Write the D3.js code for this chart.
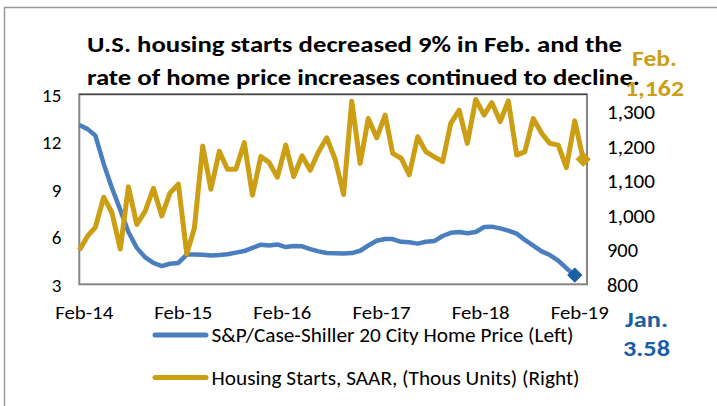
<!DOCTYPE html>
<html>
<head>
<meta charset="utf-8">
<title>Housing starts and home prices</title>
<script src="https://cdn.jsdelivr.net/npm/d3@7"></script>
<style>
  body { margin: 0; background: #fff; }
  svg text { font-family: Carlito, Lato, "Open Sans", sans-serif; }
</style>
</head>
<body>
<script>
// monthly series, Jan-14 onwards
var firstMonth = new Date(2014, 0, 1);

// Housing Starts, SAAR, thousands (Jan-14 .. Feb-19)
var housingStarts = [
  899, 940, 965, 1052, 1008, 902, 1082, 973, 1012, 1078, 998, 1064,
  1090, 888, 962, 1200, 1075, 1185, 1133, 1133, 1210, 1058, 1170, 1153,
  1110, 1203, 1112, 1172, 1130, 1184, 1224, 1162, 1060, 1330, 1150, 1280,
  1224, 1290, 1179, 1165, 1117, 1227, 1184, 1169, 1155, 1266, 1304, 1208,
  1335, 1290, 1326, 1271, 1331, 1174, 1184, 1280, 1237, 1208, 1203, 1138,
  1273, 1162
];

// S&P/Case-Shiller 20 City, % y/y (Jan-14 .. Jan-19)
var homePrice = [
  13.06, 12.8, 12.4, 10.6, 9.1, 7.7, 6.3, 5.3, 4.7, 4.35, 4.15, 4.3,
  4.35, 4.88, 4.88, 4.86, 4.82, 4.85, 4.9, 5.0, 5.1, 5.3, 5.5, 5.45,
  5.52, 5.35, 5.42, 5.4, 5.22, 5.08, 4.98, 4.96, 4.95, 4.97, 5.12, 5.45,
  5.75, 5.86, 5.86, 5.68, 5.66, 5.57, 5.69, 5.73, 6.05, 6.25, 6.3, 6.22,
  6.3, 6.62, 6.64, 6.53, 6.39, 6.2, 5.8, 5.44, 5.08, 4.85, 4.5, 4.02,
  3.58
];

var leftTicks = [3, 6, 9, 12, 15];
var rightTicks = [800, 900, 1000, 1100, 1200, 1300];
var xTickLabels = ["Feb-14", "Feb-15", "Feb-16", "Feb-17", "Feb-18", "Feb-19"];

var titleLines = [
  "U.S. housing starts decreased 9% in Feb. and the",
  "rate of home price increases continued to decline."
];
var legendLabels = [
  "S&P/Case-Shiller 20 City Home Price (Left)",
  "Housing Starts, SAAR, (Thous Units) (Right)"
];

var blue = "#4a7ebf", gold = "#cc9e14", blueDark = "#1a5ea6";

var w = 717, h = 406;
var plot = {left: 79.3, right: 587, top: 94.3, bottom: 284.3};

var svg = d3.select("body").append("svg")
  .attr("width", w)
  .attr("height", h);

// outer frame
svg.append("rect")
  .attr("x", 4.5).attr("y", 7.5)
  .attr("width", w + 10).attr("height", h + 10)
  .attr("fill", "none")
  .attr("stroke", "#9a9a9a")
  .attr("stroke-width", 1.5);

function monthDate(i) { return d3.timeMonth.offset(firstMonth, i); }

var x = d3.scaleTime()
  .domain([firstMonth, new Date(2019, 1, 15)])
  .range([plot.left, plot.right]);
var yL = d3.scaleLinear().domain([3, 15]).range([plot.bottom, plot.top]);
var yR = d3.scaleLinear().domain([800, 1350]).range([plot.bottom, plot.top]);

// plot frame
svg.append("rect")
  .attr("x", plot.left).attr("y", plot.top)
  .attr("width", plot.right - plot.left)
  .attr("height", plot.bottom - plot.top)
  .attr("fill", "#fff")
  .attr("stroke", "#858585")
  .attr("stroke-width", 2);
svg.append("line")
  .attr("x1", plot.left).attr("x2", plot.right)
  .attr("y1", plot.top).attr("y2", plot.top)
  .attr("stroke", "#333").attr("stroke-width", 1);

// axes (labels only, no tick marks or domain lines)
var leftAxis = svg.append("g")
  .attr("transform", "translate(" + (plot.left - 18) + ",0)")
  .call(d3.axisLeft(yL).tickValues(leftTicks).tickSize(0).tickPadding(0));
leftAxis.select(".domain").remove();
leftAxis.selectAll("text")
  .attr("font-family", "'Liberation Sans', Arial, sans-serif")
  .attr("font-size", 19)
  .attr("fill", "#000")
  .attr("dy", "0.36em");

var rightAxis = svg.append("g")
  .attr("transform", "translate(" + (plot.right + 20) + ",0)")
  .call(d3.axisRight(yR).tickValues(rightTicks).tickSize(0).tickPadding(0)
    .tickFormat(d3.format(",")));
rightAxis.select(".domain").remove();
rightAxis.selectAll("text")
  .attr("font-family", null)
  .attr("font-size", 20)
  .attr("fill", "#000")
  .attr("dy", "0.36em")
  .attr("textLength", function(d) { return d >= 1000 ? 48 : 31; })
  .attr("lengthAdjust", "spacingAndGlyphs");

var xTickDates = xTickLabels.map(function(d, i) { return new Date(2014 + i, 1, 1); });
var bottomAxis = svg.append("g")
  .attr("transform", "translate(-4," + (plot.bottom + 21) + ")")
  .call(d3.axisBottom(x).tickValues(xTickDates).tickSize(0).tickPadding(0)
    .tickFormat(function(d, i) { return xTickLabels[i]; }));
bottomAxis.select(".domain").remove();
bottomAxis.selectAll("text")
  .attr("font-family", null)
  .attr("font-size", 19)
  .attr("fill", "#000")
  .attr("textLength", 58)
  .attr("lengthAdjust", "spacingAndGlyphs");

// lines
var goldLine = d3.line()
  .x(function(d, i) { return x(monthDate(i)); })
  .y(function(d) { return yR(d); });
var blueLine = d3.line()
  .x(function(d, i) { return x(monthDate(i)); })
  .y(function(d) { return yL(d); });

svg.append("path")
  .datum(homePrice)
  .attr("d", blueLine)
  .attr("fill", "none")
  .attr("stroke", blue)
  .attr("stroke-width", 4.5)
  .attr("stroke-linejoin", "round");

svg.append("path")
  .datum(housingStarts)
  .attr("d", goldLine)
  .attr("fill", "none")
  .attr("stroke", gold)
  .attr("stroke-width", 5)
  .attr("stroke-linejoin", "round");

// end markers
var diamond = d3.symbol().type(d3.symbolDiamond2).size(150);
var lastBlue = homePrice.length - 1, lastGold = housingStarts.length - 1;
svg.append("path")
  .attr("d", diamond)
  .attr("transform", "translate(" + x(monthDate(lastBlue)) + "," + yL(homePrice[lastBlue]) + ")")
  .attr("fill", blueDark);
svg.append("path")
  .attr("d", diamond)
  .attr("transform", "translate(" + x(monthDate(lastGold)) + "," + yR(housingStarts[lastGold]) + ")")
  .attr("fill", gold);

// title (stretched to the reference widths)
var titleWidths = [535, 553];
svg.selectAll("text.title")
  .data(titleLines)
  .enter().append("text")
  .attr("class", "title")
  .attr("x", 87)
  .attr("y", function(d, i) { return 52 + i * 33; })
  .attr("font-size", 23)
  .attr("font-weight", "bold")
  .attr("fill", "#000")
  .attr("textLength", function(d, i) { return titleWidths[i]; })
  .attr("lengthAdjust", "spacingAndGlyphs")
  .text(function(d) { return d; });

// annotations
function note(txt, cx, y, color, len) {
  svg.append("text").attr("x", cx - len / 2).attr("y", y)
    .attr("font-size", 22).attr("font-weight", "bold")
    .attr("fill", color)
    .attr("textLength", len).attr("lengthAdjust", "spacingAndGlyphs")
    .text(txt);
}
note("Feb.", 654.5, 66, gold, 45);
note(d3.format(",")(housingStarts[lastGold]), 654.5, 96, gold, 59);
note("Jan.", 646.5, 327, blueDark, 43);
note(homePrice[lastBlue].toFixed(2), 646.5, 356, blueDark, 47);

// legend
var legendWidths = [362, 368];
var legend = svg.selectAll("g.legend")
  .data(legendLabels)
  .enter().append("g")
  .attr("class", "legend")
  .attr("transform", function(d, i) { return "translate(153," + (335 + i * 42.5) + ")"; });
legend.append("line")
  .attr("x1", 2).attr("x2", 53)
  .attr("stroke", function(d, i) { return i === 0 ? blue : gold; })
  .attr("stroke-width", 5)
  .attr("stroke-linecap", "round");
legend.append("text")
  .attr("x", 58.5)
  .attr("dy", "0.35em")
  .attr("font-size", 20)
  .attr("fill", "#000")
  .attr("textLength", function(d, i) { return legendWidths[i]; })
  .attr("lengthAdjust", "spacingAndGlyphs")
  .text(function(d) { return d; });
</script>
</body>
</html>
